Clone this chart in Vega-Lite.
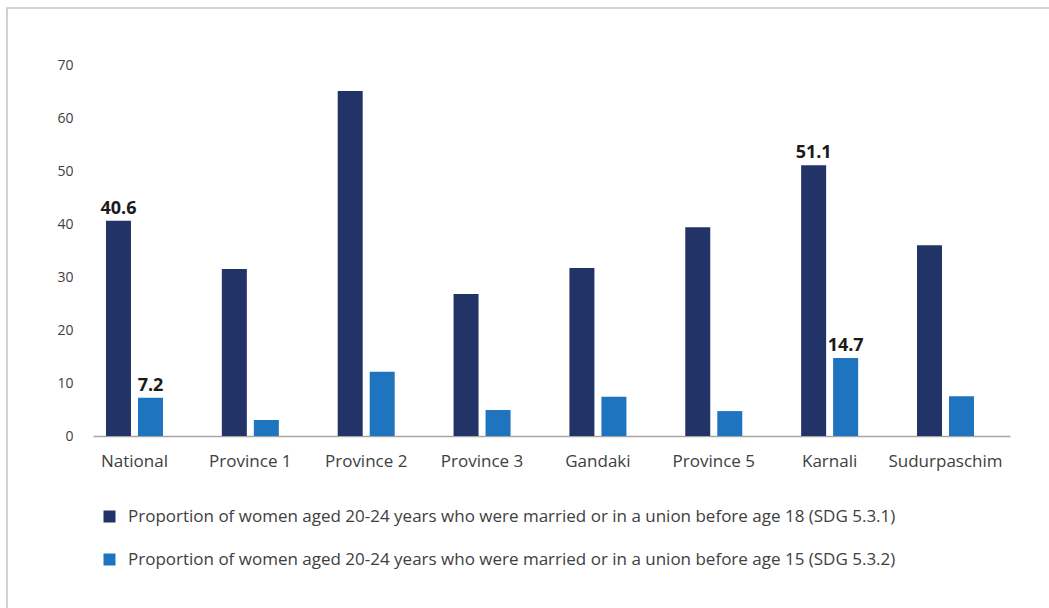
{
  "$schema": "https://vega.github.io/schema/vega-lite/v6.json",
  "width": 1060,
  "height": 610,
  "padding": {"left": 7, "top": 8, "right": 0, "bottom": 0},
  "autosize": {"type": "pad"},
  "config": {
    "font": "Open Sans",
    "view": {"stroke": "#c4c4c4", "strokeWidth": 1.5}
  },
  "data": {
    "values": [
      {"region": "National", "series": "Proportion of women aged 20-24 years who were married or in a union before age 18 (SDG 5.3.1)", "value": 40.6, "label": "40.6"},
      {"region": "National", "series": "Proportion of women aged 20-24 years who were married or in a union before age 15 (SDG 5.3.2)", "value": 7.2, "label": "7.2"},
      {"region": "Province 1", "series": "Proportion of women aged 20-24 years who were married or in a union before age 18 (SDG 5.3.1)", "value": 31.5, "label": null},
      {"region": "Province 1", "series": "Proportion of women aged 20-24 years who were married or in a union before age 15 (SDG 5.3.2)", "value": 3.0, "label": null},
      {"region": "Province 2", "series": "Proportion of women aged 20-24 years who were married or in a union before age 18 (SDG 5.3.1)", "value": 65.1, "label": null},
      {"region": "Province 2", "series": "Proportion of women aged 20-24 years who were married or in a union before age 15 (SDG 5.3.2)", "value": 12.1, "label": null},
      {"region": "Province 3", "series": "Proportion of women aged 20-24 years who were married or in a union before age 18 (SDG 5.3.1)", "value": 26.8, "label": null},
      {"region": "Province 3", "series": "Proportion of women aged 20-24 years who were married or in a union before age 15 (SDG 5.3.2)", "value": 4.9, "label": null},
      {"region": "Gandaki", "series": "Proportion of women aged 20-24 years who were married or in a union before age 18 (SDG 5.3.1)", "value": 31.7, "label": null},
      {"region": "Gandaki", "series": "Proportion of women aged 20-24 years who were married or in a union before age 15 (SDG 5.3.2)", "value": 7.4, "label": null},
      {"region": "Province 5", "series": "Proportion of women aged 20-24 years who were married or in a union before age 18 (SDG 5.3.1)", "value": 39.4, "label": null},
      {"region": "Province 5", "series": "Proportion of women aged 20-24 years who were married or in a union before age 15 (SDG 5.3.2)", "value": 4.7, "label": null},
      {"region": "Karnali", "series": "Proportion of women aged 20-24 years who were married or in a union before age 18 (SDG 5.3.1)", "value": 51.1, "label": "51.1"},
      {"region": "Karnali", "series": "Proportion of women aged 20-24 years who were married or in a union before age 15 (SDG 5.3.2)", "value": 14.7, "label": "14.7"},
      {"region": "Sudurpaschim", "series": "Proportion of women aged 20-24 years who were married or in a union before age 18 (SDG 5.3.1)", "value": 36.0, "label": null},
      {"region": "Sudurpaschim", "series": "Proportion of women aged 20-24 years who were married or in a union before age 15 (SDG 5.3.2)", "value": 7.5, "label": null}
    ]
  },
  "encoding": {
    "x": {
      "field": "region",
      "type": "nominal",
      "sort": ["National", "Province 1", "Province 2", "Province 3", "Gandaki", "Province 5", "Karnali", "Sudurpaschim"],
      "scale": {"range": [86, 1003], "paddingInner": 0.508, "paddingOuter": 0.2114, "align": 0.265},
      "axis": {
        "title": null,
        "offset": -182,
        "labelAngle": 0,
        "labelFontSize": 17,
        "labelColor": "#404040",
        "labelPadding": 17,
        "ticks": false,
        "domainColor": "#a6a6a6",
        "domainWidth": 1.5,
        "grid": false
      }
    },
    "xOffset": {
      "field": "series",
      "type": "nominal",
      "sort": ["Proportion of women aged 20-24 years who were married or in a union before age 18 (SDG 5.3.1)", "Proportion of women aged 20-24 years who were married or in a union before age 15 (SDG 5.3.2)"],
      "scale": {"paddingInner": 0.219, "paddingOuter": 0}
    },
    "y": {
      "field": "value",
      "type": "quantitative",
      "scale": {"domain": [0, 70], "range": [428, 57], "nice": false},
      "axis": {
        "title": null,
        "offset": -86,
        "values": [0, 10, 20, 30, 40, 50, 60, 70],
        "labelFontSize": 14,
        "labelColor": "#404040",
        "labelPadding": 20,
        "ticks": false,
        "domain": false,
        "grid": false
      }
    }
  },
  "layer": [
    {
      "mark": {"type": "bar"},
      "encoding": {
        "color": {
          "field": "series",
          "type": "nominal",
          "sort": ["Proportion of women aged 20-24 years who were married or in a union before age 18 (SDG 5.3.1)", "Proportion of women aged 20-24 years who were married or in a union before age 15 (SDG 5.3.2)"],
          "scale": {"range": ["#223467", "#1e74be"]},
          "legend": {
            "title": null,
            "orient": "none",
            "legendX": 94,
            "legendY": 500,
            "direction": "vertical",
            "symbolType": "square",
            "symbolSize": 144,
            "symbolStrokeWidth": 0,
            "labelFontSize": 17,
            "labelColor": "#404040",
            "labelOffset": 10,
            "labelLimit": 0,
            "rowPadding": 25
          }
        }
      }
    },
    {
      "transform": [{"filter": "datum.label != null"}],
      "mark": {"type": "text", "baseline": "alphabetic", "dy": -7, "fontSize": 18, "fontWeight": "bold", "color": "#1a1a1a"},
      "encoding": {
        "text": {"field": "label", "type": "nominal"}
      }
    }
  ]
}
